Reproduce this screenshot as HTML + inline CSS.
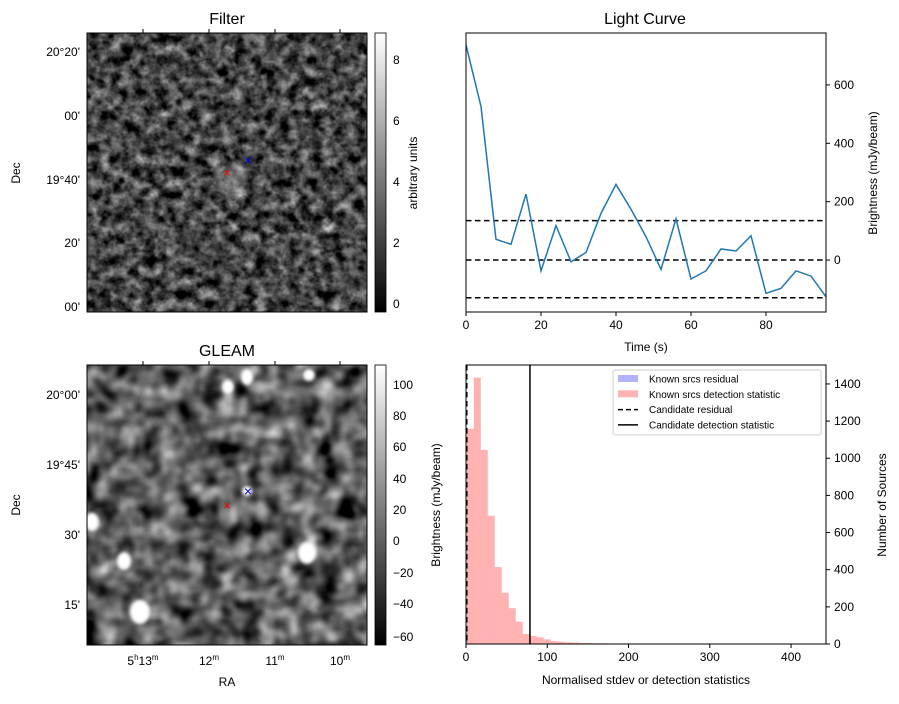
<!DOCTYPE html>
<html><head><meta charset="utf-8"><style>
body{margin:0;background:#fff;font-family:"Liberation Sans","DejaVu Sans",sans-serif;}
svg text{font-family:"Liberation Sans","DejaVu Sans",sans-serif;}
</style></head><body>
<svg id="fig" width="899" height="699" viewBox="0 0 899 699" xmlns="http://www.w3.org/2000/svg">
<defs>
<filter id="nf" x="0" y="0" width="100%" height="100%" color-interpolation-filters="sRGB">
<feTurbulence type="fractalNoise" baseFrequency="0.09" numOctaves="3" seed="4"/>
<feColorMatrix type="matrix" values="0.33 0.33 0.33 0 0 0.33 0.33 0.33 0 0 0.33 0.33 0.33 0 0 0 0 0 0 1"/>
<feComponentTransfer><feFuncR type="linear" slope="1.8" intercept="-0.62"/><feFuncG type="linear" slope="1.8" intercept="-0.62"/><feFuncB type="linear" slope="1.8" intercept="-0.62"/></feComponentTransfer>
</filter>
<filter id="gf" x="0" y="0" width="100%" height="100%" color-interpolation-filters="sRGB">
<feTurbulence type="fractalNoise" baseFrequency="0.05" numOctaves="2" seed="9"/>
<feColorMatrix type="matrix" values="0.33 0.33 0.33 0 0 0.33 0.33 0.33 0 0 0.33 0.33 0.33 0 0 0 0 0 0 1"/>
<feComponentTransfer><feFuncR type="linear" slope="2" intercept="-0.62"/><feFuncG type="linear" slope="2" intercept="-0.62"/><feFuncB type="linear" slope="2" intercept="-0.62"/></feComponentTransfer>
</filter>
<filter id="bl"><feGaussianBlur stdDeviation="1.5"/></filter>
<linearGradient id="cb" x1="0" y1="1" x2="0" y2="0"><stop offset="0" stop-color="#000"/><stop offset="1" stop-color="#fff"/></linearGradient>
<clipPath id="cg"><rect x="87" y="365" width="280" height="280"/></clipPath>
</defs>

<g>
<text x="227" y="24" font-size="16" text-anchor="middle">Filter</text>
<rect x="87" y="33" width="280" height="279" filter="url(#nf)"/>
<ellipse cx="232" cy="180" rx="14" ry="18" fill="#fff" opacity="0.25" filter="url(#bl)"/>
<rect x="87" y="33" width="280" height="279" fill="none" stroke="#000" stroke-width="1"/>
<g stroke="#000">
<line x1="143" x2="143" y1="33" y2="29"/><line x1="209" x2="209" y1="33" y2="29"/><line x1="275" x2="275" y1="33" y2="29"/><line x1="340" x2="340" y1="33" y2="29"/>
</g>
<text x="227" y="177" font-size="13" fill="red" text-anchor="middle">×</text>
<text x="248" y="165" font-size="14" fill="blue" text-anchor="middle">×</text>
<g font-size="12" text-anchor="end">
<text x="80" y="56">20°20'</text><text x="80" y="120">00'</text><text x="80" y="184">19°40'</text><text x="80" y="247">20'</text><text x="80" y="311">00'</text>
</g>
<text x="20" y="173" font-size="12" transform="rotate(-90 20 173)" text-anchor="middle">Dec</text>
<rect x="375" y="33" width="11" height="279" fill="url(#cb)" stroke="#000" stroke-width="0.8"/>
<g font-size="12">
<text x="393" y="308">0</text><text x="393" y="247">2</text><text x="393" y="186">4</text><text x="393" y="125">6</text><text x="393" y="64">8</text>
</g>
<text x="417" y="173" font-size="12" transform="rotate(-90 417 173)" text-anchor="middle">arbitrary units</text>
</g>

<g>
<text x="227" y="356" font-size="16" text-anchor="middle">GLEAM</text>
<g clip-path="url(#cg)">
<rect x="87" y="365" width="280" height="280" filter="url(#gf)"/>
<g fill="#fff" filter="url(#bl)">
<ellipse cx="247" cy="377" rx="6" ry="8"/><ellipse cx="228" cy="387" rx="6" ry="7"/><ellipse cx="309" cy="375" rx="6" ry="6"/>
<ellipse cx="92" cy="522" rx="7" ry="9"/><ellipse cx="124" cy="561" rx="7" ry="9"/><ellipse cx="307" cy="553" rx="9" ry="11"/>
<ellipse cx="140" cy="612" rx="10" ry="12"/><ellipse cx="247" cy="491" rx="5" ry="5"/>
</g>
</g>
<rect x="87" y="365" width="280" height="280" fill="none" stroke="#000"/>
<g stroke="#000">
<line x1="143" x2="143" y1="365" y2="361"/><line x1="209" x2="209" y1="365" y2="361"/><line x1="275" x2="275" y1="365" y2="361"/><line x1="340" x2="340" y1="365" y2="361"/>
</g>
<text x="227" y="510" font-size="13" fill="red" text-anchor="middle">×</text>
<text x="248" y="496" font-size="14" fill="blue" text-anchor="middle">×</text>
<g font-size="12" text-anchor="end">
<text x="80" y="399">20°00'</text><text x="80" y="469">19°45'</text><text x="80" y="539">30'</text><text x="80" y="609">15'</text>
</g>
<g font-size="12" text-anchor="middle">
<text x="143" y="665">5<tspan font-size="8" dy="-5">h</tspan><tspan dy="5">13</tspan><tspan font-size="8" dy="-5">m</tspan></text>
<text x="209" y="665">12<tspan font-size="8" dy="-5">m</tspan></text>
<text x="275" y="665">11<tspan font-size="8" dy="-5">m</tspan></text>
<text x="340" y="665">10<tspan font-size="8" dy="-5">m</tspan></text>
</g>
<text x="227" y="686" font-size="12" text-anchor="middle">RA</text>
<text x="20" y="505" font-size="12" transform="rotate(-90 20 505)" text-anchor="middle">Dec</text>
<rect x="375" y="365" width="11" height="280" fill="url(#cb)" stroke="#000" stroke-width="0.8"/>
<g font-size="12">
<text x="393" y="389">100</text><text x="393" y="420">80</text><text x="393" y="451">60</text><text x="393" y="483">40</text><text x="393" y="514">20</text><text x="393" y="545">0</text><text x="393" y="577">−20</text><text x="393" y="608">−40</text><text x="393" y="641">−60</text>
</g>
<text x="440" y="505" font-size="12" transform="rotate(-90 440 505)" text-anchor="middle">Brightness (mJy/beam)</text>
</g>

<g id="lc"></g>
<g id="hist"></g>
</svg>
<script>
const lcTimes=[0,4,8,12,16,20,24,28,32,36,40,44,48,52,56,60,64,68,72,76,80,84,88,92,96];
const lcValues=[737,526,71,54,226,-37,118,-6,26,160,259,174,80,-32,141,-65,-37,38,31,83,-114,-97,-37,-55,-126];
const lcThresholds=[135,0,-129];
const lcYTicks=[0,200,400,600];
const lcXTicks=[0,20,40,60,80];

const histBinStarts=[1,9.6,18.2,26.8,35.4,44,52.6,61.2,69.8,78.4,87,95.6,104.2,112.8,121.4,130,138.6,147.2,155.8,164.4,173,190.2,207.4,224.6,241.8,276.2,293.4,310.6,405.2];
const histCounts=[1158,1434,1045,691,414,276,193,120,54,43,36,25,16,12,9,8,6,5,4,4,3,3,2,2,2,1,1,1,1];
const histBinWidth=8.6;
const knownResidualCounts=[60,0];
const candidateResidual=1;
const candidateDetection=78.7;
const histXTicks=[0,100,200,300,400];
const histYTicks=[0,200,400,600,800,1000,1200,1400];

const NS='http://www.w3.org/2000/svg';
function mk(tag,attrs,parent){const e=document.createElementNS(NS,tag);for(const k in attrs)e.setAttribute(k,attrs[k]);parent.appendChild(e);return e;}

const lc=document.getElementById('lc');
const L={x0:466,x1:826,y0:33,y1:312,tmin:0,tmax:96,vmin:-178,vmax:778};
const lx=t=>L.x0+(t-L.tmin)/(L.tmax-L.tmin)*(L.x1-L.x0);
const ly=v=>L.y1-(v-L.vmin)/(L.vmax-L.vmin)*(L.y1-L.y0);
let t=mk('text',{x:645,y:24,'font-size':16,'text-anchor':'middle'},lc);t.textContent='Light Curve';


lcThresholds.forEach(v=>{const l=mk('line',{x1:L.x0,x2:L.x1,y1:ly(v),y2:ly(v),stroke:'#000','stroke-width':1.5,'stroke-dasharray':'5.5,3.5'},lc);

});
const pl=mk('polyline',{points:lcTimes.map((tt,i)=>lx(tt)+','+ly(lcValues[i])).join(' '),fill:'none',stroke:'#1f77b4','stroke-width':1.5},lc);


mk('rect',{x:L.x0,y:L.y0,width:L.x1-L.x0,height:L.y1-L.y0,fill:'none',stroke:'#000'},lc);
lcXTicks.forEach(v=>{mk('line',{x1:lx(v),x2:lx(v),y1:L.y1,y2:L.y1+4,stroke:'#000'},lc);const e=mk('text',{x:lx(v),y:L.y1+17,'font-size':12,'text-anchor':'middle'},lc);e.textContent=v;

});
lcYTicks.forEach(v=>{mk('line',{x1:L.x1,x2:L.x1+4,y1:ly(v),y2:ly(v),stroke:'#000'},lc);const e=mk('text',{x:L.x1+8,y:ly(v)+4,'font-size':12},lc);e.textContent=v;

});
t=mk('text',{x:646,y:351,'font-size':12,'text-anchor':'middle'},lc);t.textContent='Time (s)';


t=mk('text',{x:877,y:173,'font-size':12,'text-anchor':'middle',transform:'rotate(-90 877 173)'},lc);t.textContent='Brightness (mJy/beam)';



const h=document.getElementById('hist');
const H={x0:466,x1:826,y0:365,y1:644,xmin:0,xmax:443,cmax:1502};
const hx=v=>H.x0+(v-H.xmin)/(H.xmax-H.xmin)*(H.x1-H.x0);
const hy=c=>H.y1-c/H.cmax*(H.y1-H.y0);
histCounts.forEach((c,i)=>{const x=hx(histBinStarts[i]);const b=mk('rect',{x:x,y:hy(c),width:hx(histBinStarts[i]+histBinWidth)-x,height:H.y1-hy(c),fill:'#ff0000','fill-opacity':0.3},h);

});
knownResidualCounts.forEach((c,i)=>{const x=hx(i*2);const b=mk('rect',{x:x,y:hy(c),width:hx(i*2+2)-x,height:H.y1-hy(c),fill:'#0000ff','fill-opacity':0.3},h);

});
let l=mk('line',{x1:hx(candidateResidual),x2:hx(candidateResidual),y1:H.y0,y2:H.y1,stroke:'#000','stroke-width':1.5,'stroke-dasharray':'5.5,3.5'},h);


l=mk('line',{x1:hx(candidateDetection),x2:hx(candidateDetection),y1:H.y0,y2:H.y1,stroke:'#000','stroke-width':1.5},h);


mk('rect',{x:H.x0,y:H.y0,width:H.x1-H.x0,height:H.y1-H.y0,fill:'none',stroke:'#000'},h);
histXTicks.forEach(v=>{mk('line',{x1:hx(v),x2:hx(v),y1:H.y1,y2:H.y1+4,stroke:'#000'},h);const e=mk('text',{x:hx(v),y:H.y1+17,'font-size':12,'text-anchor':'middle'},h);e.textContent=v;

});
histYTicks.forEach(v=>{mk('line',{x1:H.x1,x2:H.x1+4,y1:hy(v),y2:hy(v),stroke:'#000'},h);const e=mk('text',{x:H.x1+8,y:hy(v)+4,'font-size':12},h);e.textContent=v;

});
t=mk('text',{x:646,y:684,'font-size':12,'text-anchor':'middle'},h);t.textContent='Normalised stdev or detection statistics';


t=mk('text',{x:886,y:505,'font-size':12,'text-anchor':'middle',transform:'rotate(-90 886 505)'},h);t.textContent='Number of Sources';


const lg=mk('g',{},h);


mk('rect',{x:613,y:370,width:208,height:65,fill:'#fff',stroke:'#ccc',rx:2},lg);
const items=[['Known srcs residual','b'],['Known srcs detection statistic','r'],['Candidate residual','d'],['Candidate detection statistic','s']];
items.forEach((it,i)=>{const y=379+i*15.3;
if(it[1]==='b')mk('rect',{x:618,y:y-4,width:20,height:7,fill:'#0000ff','fill-opacity':0.3},lg);
else if(it[1]==='r')mk('rect',{x:618,y:y-4,width:20,height:7,fill:'#ff0000','fill-opacity':0.3},lg);
else mk('line',{x1:618,x2:638,y1:y,y2:y,stroke:'#000','stroke-width':1.5,'stroke-dasharray':it[1]==='d'?'5,3':'none'},lg);
const e=mk('text',{x:649,y:y+3.5,'font-size':10},lg);e.textContent=it[0];

});
</script>
</body></html>
